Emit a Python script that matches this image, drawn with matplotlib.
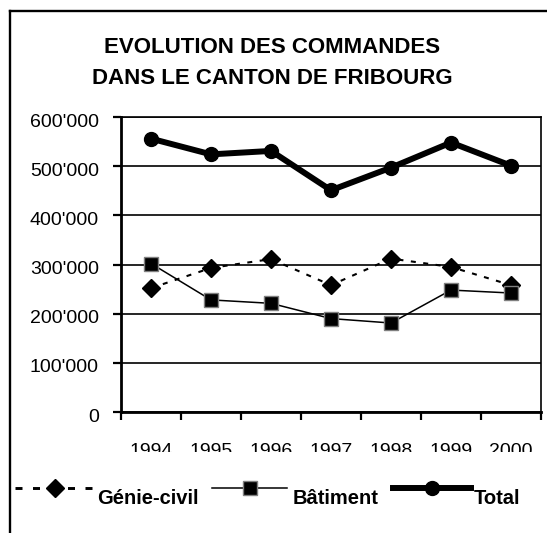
import matplotlib
matplotlib.use('Agg')
import matplotlib.pyplot as plt
from matplotlib.lines import Line2D
from matplotlib.transforms import Bbox, ScaledTranslation
from matplotlib.ticker import FuncFormatter, FixedLocator

plt.rcParams['font.family'] = ['Liberation Sans', 'DejaVu Sans']

years = ['1994', '1995', '1996', '1997', '1998', '1999', '2000']
genie_civil = [252000, 293000, 311000, 258000, 312000, 295000, 258000]
batiment = [302000, 228000, 221000, 190000, 181000, 248000, 242000]
total = [556000, 524000, 531000, 451000, 497000, 548000, 501000]
y_ticks = [0, 100000, 200000, 300000, 400000, 500000, 600000]
title = "EVOLUTION DES COMMANDES\nDANS LE CANTON DE FRIBOURG"
legend_labels = ['Génie-civil', 'Bâtiment', 'Total']

W, H = 547, 533
fig = plt.figure(figsize=(W / 100, H / 100), dpi=100)

def fx(px):
    return px / W

def fy(py):
    return 1 - py / H

ax = fig.add_axes([fx(121), fy(412), fx(541) - fx(121), fy(117) - fy(412)])

x = list(range(len(years)))

ln_g, = ax.plot(x, genie_civil, linestyle='--', dashes=(2.4, 3.6), color='black', linewidth=1.5,
                marker='D', markersize=9.5,
                markerfacecolor='black', markeredgecolor='black', zorder=4)
ln_b, = ax.plot(x, batiment, color='black', linewidth=1.1, marker='s', markersize=9.5,
                markerfacecolor='black', markeredgecolor='#7f7f7f', markeredgewidth=1.0, zorder=5)
ln_t, = ax.plot(x, total, color='black', linewidth=4.3, marker='o', markersize=10,
                markerfacecolor='black', markeredgecolor='black', zorder=6)

ax.set_xlim(-0.5, len(years) - 0.5)
ax.set_ylim(0, 600000)

ax.yaxis.set_major_locator(FixedLocator(y_ticks))
ax.yaxis.set_major_formatter(FuncFormatter(lambda v, p: "0" if v == 0 else f"{int(v):,}".replace(',', "'")))
ax.grid(axis='y', color='black', linewidth=1.2)
ax.set_axisbelow(True)

ax.set_xticks([i - 0.5 for i in range(len(years) + 1)])
ax.set_xticklabels([])
ax.set_xticks(x, minor=True)
ax.set_xticklabels(years, minor=True)
ax.tick_params(axis='x', which='major', length=6, width=1.6, direction='out', color='black')
ax.tick_params(axis='x', which='minor', length=0, pad=22, labelsize=14)
ax.tick_params(axis='y', length=6, width=1.6, direction='out', pad=10, labelsize=14)

for side in ['left', 'bottom']:
    ax.spines[side].set_linewidth(2.0)
for side in ['top', 'right']:
    ax.spines[side].set_linewidth(1.2)

clip = Bbox([[0, H - 452], [W, H]])
for lab in ax.get_xticklabels(minor=True):
    lab.set_clip_box(clip)
    lab.set_clip_on(True)

down = ScaledTranslation(0, -3 / 100, fig.dpi_scale_trans)
for lab in ax.get_yticklabels():
    lab.set_transform(lab.get_transform() + down)

fig.text(fx(272), fy(63), title, ha='center', va='center', fontsize=16,
         fontweight='bold', linespacing=1.65)

fig.add_artist(Line2D([fx(9.5), fx(9.5)], [fy(10.5), fy(540)], color='black', linewidth=1.7))
fig.add_artist(Line2D([fx(9.5), fx(560)], [fy(10.5), fy(10.5)], color='black', linewidth=1.7))

ly = fy(488)
ty = fy(499)
entries = [
    (ln_g, 15, 95, 97),
    (ln_b, 212, 287, 293),
    (ln_t, 393, 471, 474),
]
for (ln, x0, x1, tx), lab in zip(entries, legend_labels):
    lw = ln.get_linewidth() * (1.4 if ln is ln_g else 1.0)
    h = Line2D([fx(x0), fx(x1)], [ly, ly], color='black', linewidth=lw)
    if ln is ln_g:
        h.set_dashes((2.4, 3.6))
    fig.add_artist(h)
    m = Line2D([fx((x0 + x1) / 2)], [ly], marker=ln.get_marker(), markersize=ln.get_markersize(),
               markerfacecolor=ln.get_markerfacecolor(), markeredgecolor=ln.get_markeredgecolor(),
               markeredgewidth=ln.get_markeredgewidth(), linestyle='none')
    fig.add_artist(m)
    fig.text(fx(tx), ty, lab, ha='left', va='center', fontsize=14.5, fontweight='bold')

fig.savefig('out.png', dpi=100)
